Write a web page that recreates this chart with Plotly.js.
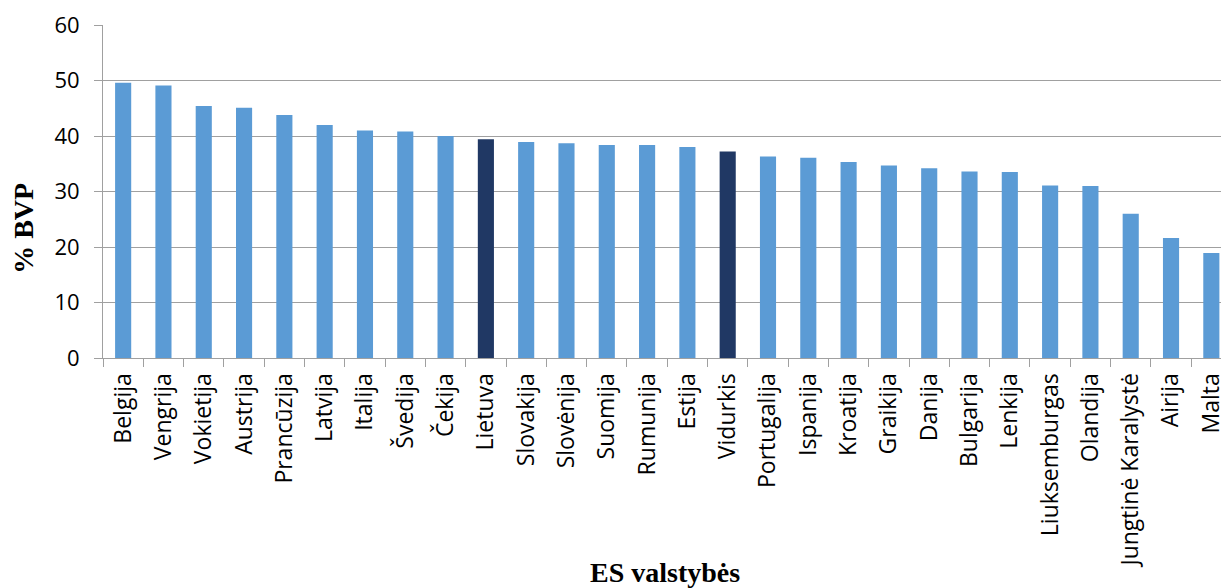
<!DOCTYPE html>
<html>
<head>
<meta charset="utf-8">
<script src="https://cdn.plot.ly/plotly-3.0.1.min.js"></script>
<style>
  html, body { margin: 0; padding: 0; background: #ffffff; overflow: hidden; }
  #chart { width: 1221px; height: 588px; }
</style>
</head>
<body>
<div id="chart"></div>
<script>
// Mokesčių pajamos, % BVP, pagal ES valstybes
const countries = [
  "Belgija", "Vengrija", "Vokietija", "Austrija", "Prancūzija", "Latvija",
  "Italija", "Švedija", "Čekija", "Lietuva", "Slovakija", "Slovėnija",
  "Suomija", "Rumunija", "Estija", "Vidurkis", "Portugalija", "Ispanija",
  "Kroatija", "Graikija", "Danija", "Bulgarija", "Lenkija", "Liuksemburgas",
  "Olandija", "Jungtinė Karalystė", "Airija", "Malta"
];
const values = [
  49.6, 49.1, 45.4, 45.1, 43.8, 42.0,
  41.0, 40.8, 40.0, 39.4, 38.9, 38.7,
  38.4, 38.4, 38.0, 37.2, 36.3, 36.1,
  35.3, 34.7, 34.2, 33.6, 33.5, 31.1,
  31.0, 26.0, 21.6, 18.9
];
const highlighted = ["Lietuva", "Vidurkis"];
const yTicks = [0, 10, 20, 30, 40, 50, 60];

const baseColor = "#5B9BD5";
const accentColor = "#203864";
const barColors = countries.map(c => highlighted.includes(c) ? accentColor : baseColor);

const trace = {
  type: "bar",
  x: countries,
  y: values,
  marker: { color: barColors, line: { width: 0 } },
  hoverinfo: "x+y"
};

const gridColor = "#A0A0A0";
const titleFont = { family: "Liberation Serif, Times New Roman, serif", size: 28, color: "#000000", weight: "bold" };

const layout = {
  width: 1221,
  height: 588,
  margin: { l: 103, r: 0, t: 25, b: 230 },
  paper_bgcolor: "#ffffff",
  plot_bgcolor: "#ffffff",
  bargap: 0.6,
  showlegend: false,
  xaxis: {
    type: "category",
    range: [-0.5, 27.24],
    tickangle: -90,
    tickfont: { family: "Open Sans, sans-serif", size: 23, color: "#000000" },
    ticks: "outside",
    ticklen: 8,
    tickcolor: gridColor,
    tickson: "boundaries",
    ticklabelstandoff: 5,
    showline: true,
    linecolor: gridColor,
    linewidth: 1,
    showgrid: false,
    zeroline: false,
    fixedrange: true
  },
  yaxis: {
    range: [0, 60],
    tickvals: yTicks,
    ticktext: yTicks.map(String),
    tickfont: { family: "Open Sans, sans-serif", size: 22, color: "#000000" },
    ticks: "outside",
    ticklen: 8,
    tickcolor: gridColor,
    ticklabelstandoff: 10,
    showline: true,
    linecolor: gridColor,
    linewidth: 1,
    showgrid: true,
    gridcolor: gridColor,
    gridwidth: 1,
    zeroline: false,
    fixedrange: true
  },
  annotations: [
    {
      text: "% BVP",
      xref: "paper", yref: "paper",
      x: -0.0718, y: 0.39,
      xanchor: "center", yanchor: "middle",
      textangle: -90,
      showarrow: false,
      font: titleFont
    },
    {
      text: "ES valstybės",
      xref: "paper", yref: "paper",
      x: 0.503, y: -0.645,
      xanchor: "center", yanchor: "middle",
      showarrow: false,
      font: titleFont
    }
  ]
};

Plotly.newPlot("chart", [trace], layout, { displayModeBar: false, staticPlot: true });
</script>
</body>
</html>
